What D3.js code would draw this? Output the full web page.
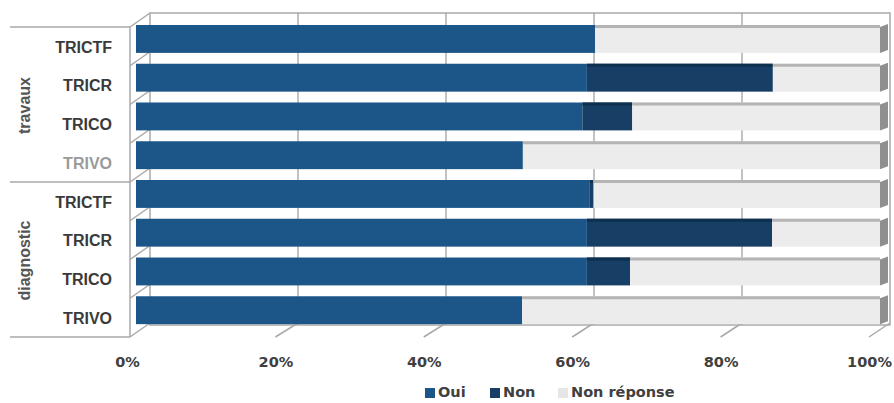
<!DOCTYPE html>
<html>
<head>
<meta charset="utf-8">
<script src="https://cdn.jsdelivr.net/npm/d3@7"></script>
<style>
  html, body { margin: 0; padding: 0; background: #ffffff; }
  svg { display: block; }
</style>
</head>
<body>
<svg id="chart" width="894" height="403"></svg>
<script>
// Réponses par type de contrôle (en %), du haut vers le bas
const groups = ["travaux", "diagnostic"];
const categories = ["TRICTF", "TRICR", "TRICO", "TRIVO"];
const rowGroups = ["travaux", "travaux", "travaux", "travaux",
                   "diagnostic", "diagnostic", "diagnostic", "diagnostic"];
const rowLabels = ["TRICTF", "TRICR", "TRICO", "TRIVO",
                   "TRICTF", "TRICR", "TRICO", "TRIVO"];
const oui        = [61.7, 60.6, 60.0, 52.0, 61.0, 60.6, 60.6, 51.9];
const non        = [ 0.0, 25.0,  6.7,  0.0,  0.5, 24.9,  5.8,  0.0];
const nonReponse = [38.3, 14.4, 33.3, 48.0, 38.5, 14.5, 33.6, 48.1];
const seriesNames = ["Oui", "Non", "Non réponse"];
const tickValues = [0, 20, 40, 60, 80, 100];

const colors = { "Oui": "#1c5689", "Non": "#173f66", "Non réponse": "#ececec" };
const topFace = { "Oui": "#1c5689", "Non": "#0f2f4f", "Non réponse": "#b4b4b4" };

const svg = d3.select("#chart");
const rows = rowLabels.map((d, i) => ({
  key: rowGroups[i] + "|" + d, label: d, group: rowGroups[i],
  "Oui": oui[i], "Non": non[i], "Non réponse": nonReponse[i]
}));

// Scales: front floor edge, bar front faces and the back wall
const xFloor = d3.scaleLinear().domain([0, 100]).range([127, 869]);
const xBar   = d3.scaleLinear().domain([0, 100]).range([136, 880]);
const xWall  = d3.scaleLinear().domain([0, 100]).range([150, 890]);
const y = d3.scaleBand().domain(rows.map(r => r.key)).range([27, 337]).padding(0);
const depthX = xWall(0) - 130, depthY = 14;   // oblique offset of the side wall
const wallTop = 13, wallBottom = 337 - depthY + 2;
const lineCol = "#a9a9a9";

// Back wall
svg.append("rect")
  .attr("x", xWall(0)).attr("y", wallTop)
  .attr("width", xWall(100) - xWall(0)).attr("height", wallBottom - wallTop)
  .attr("fill", "#ffffff").attr("stroke", lineCol).attr("stroke-width", 1.5);

// Vertical gridlines on the back wall
svg.append("g").selectAll("line")
  .data(tickValues.slice(1, -1))
  .join("line")
  .attr("x1", d => xWall(d)).attr("x2", d => xWall(d))
  .attr("y1", wallTop).attr("y2", wallBottom)
  .attr("stroke", "#9a9a9a").attr("stroke-width", 1.2);

// Left side wall: vertical edge and oblique lines at each category boundary
const boundaries = rows.map(r => y(r.key)).concat([y.range()[1]]);
const side = svg.append("g").attr("stroke", lineCol).attr("stroke-width", 1.5).attr("fill", "none");
side.append("line").attr("x1", 130).attr("x2", 130).attr("y1", 27).attr("y2", 337);
side.selectAll("line.obl")
  .data(boundaries)
  .join("line").attr("class", "obl")
  .attr("x1", 130).attr("y1", d => d)
  .attr("x2", 130 + depthX).attr("y2", d => d - depthY);

// Floor: oblique ticks from the front edge to the back wall
svg.append("g").selectAll("line")
  .data(tickValues.slice(1))
  .join("line")
  .attr("x1", d => xFloor(d)).attr("y1", 337)
  .attr("x2", d => xWall(d)).attr("y2", 337 - depthY)
  .attr("stroke", lineCol).attr("stroke-width", 1.5);

// Stacked 100% bars
const stack = d3.stack().keys(seriesNames)(rows);
const barH = y.bandwidth() * 0.72;
const barY = r => y(r.key) - 2;
const capW = 8, topH = 3;

stack.forEach(layer => {
  const name = layer.key;
  const g = svg.append("g");
  g.selectAll("rect.front")
    .data(layer.filter(d => d[1] - d[0] > 0))
    .join("rect").attr("class", "front")
    .attr("x", d => xBar(d[0]))
    .attr("y", d => barY(d.data))
    .attr("width", d => Math.max(xBar(d[1]) - xBar(d[0]), 1.5))
    .attr("height", barH)
    .attr("fill", colors[name]);
  if (name !== "Oui") {
    g.selectAll("rect.top")
      .data(layer.filter(d => d[1] - d[0] > 0))
      .join("rect").attr("class", "top")
      .attr("x", d => xBar(d[0]))
      .attr("y", d => barY(d.data))
      .attr("width", d => Math.max(xBar(d[1]) - xBar(d[0]), 1.5))
      .attr("height", topH)
      .attr("fill", topFace[name]);
  }
});

// Right end caps of the bars
svg.append("g").selectAll("path")
  .data(rows)
  .join("path")
  .attr("d", r => {
    const x0 = xBar(100), y0 = barY(r);
    return `M${x0},${y0 + 2}L${x0 + capW},${y0 - 1}L${x0 + capW},${y0 + barH - 3}L${x0},${y0 + barH}Z`;
  })
  .attr("fill", "#8f8f8f");

// Category axis (two levels)
const labelFont = "'Liberation Sans', Arial, sans-serif";
svg.append("g").selectAll("text")
  .data(rows)
  .join("text")
  .attr("x", 112)
  .attr("y", r => y(r.key) + y.bandwidth() / 2 + 2)
  .attr("text-anchor", "end").attr("dominant-baseline", "middle")
  .attr("font-family", labelFont).attr("font-weight", "bold").attr("font-size", 16)
  .attr("fill", (r, i) => (r.group === "travaux" && r.label === "TRIVO") ? "#9a9a9a" : "#3a3a3a")
  .text(r => r.label);

const groupExtent = g => {
  const ks = rows.filter(r => r.group === g).map(r => r.key);
  return [y(ks[0]), y(ks[ks.length - 1]) + y.bandwidth()];
};
groups.forEach(g => {
  const [a, b] = groupExtent(g);
  svg.append("text")
    .attr("transform", `translate(26,${(a + b) / 2 + 1}) rotate(-90)`)
    .attr("text-anchor", "middle").attr("dominant-baseline", "middle")
    .attr("font-family", labelFont).attr("font-weight", "bold").attr("font-size", 16)
    .attr("fill", "#555555")
    .text(g);
});
const sepYs = [27, groupExtent("travaux")[1], 337];
svg.append("g").selectAll("line")
  .data(sepYs)
  .join("line")
  .attr("x1", 10).attr("x2", 130)
  .attr("y1", d => d).attr("y2", d => d)
  .attr("stroke", lineCol).attr("stroke-width", 1.5);

// Value axis labels
const xAxis = d3.axisBottom(xFloor)
  .tickValues(tickValues)
  .tickFormat(d => d + "%")
  .tickSize(0).tickPadding(0);
const axisG = svg.append("g").attr("transform", "translate(0,357)").call(xAxis);
axisG.select(".domain").remove();
axisG.selectAll("text")
  .attr("font-family", "'DejaVu Sans', sans-serif").attr("font-weight", "bold")
  .attr("font-size", 14.5).attr("fill", "#404040")
  .attr("dy", "0.71em");

// Legend
const legendItems = [
  { name: "Oui", x: 425 },
  { name: "Non", x: 490 },
  { name: "Non réponse", x: 558 }
];
const leg = svg.append("g");
leg.selectAll("rect")
  .data(legendItems)
  .join("rect")
  .attr("x", d => d.x).attr("y", 388)
  .attr("width", 10).attr("height", 10)
  .attr("fill", d => d.name === "Non réponse" ? "#e6e6e6" : colors[d.name]);
leg.selectAll("text")
  .data(legendItems)
  .join("text")
  .attr("x", d => d.x + 13).attr("y", 393)
  .attr("dominant-baseline", "middle")
  .attr("font-family", "'DejaVu Sans', sans-serif").attr("font-weight", "bold")
  .attr("font-size", 14.5).attr("fill", "#404040")
  .text(d => d.name);
</script>
</body>
</html>
